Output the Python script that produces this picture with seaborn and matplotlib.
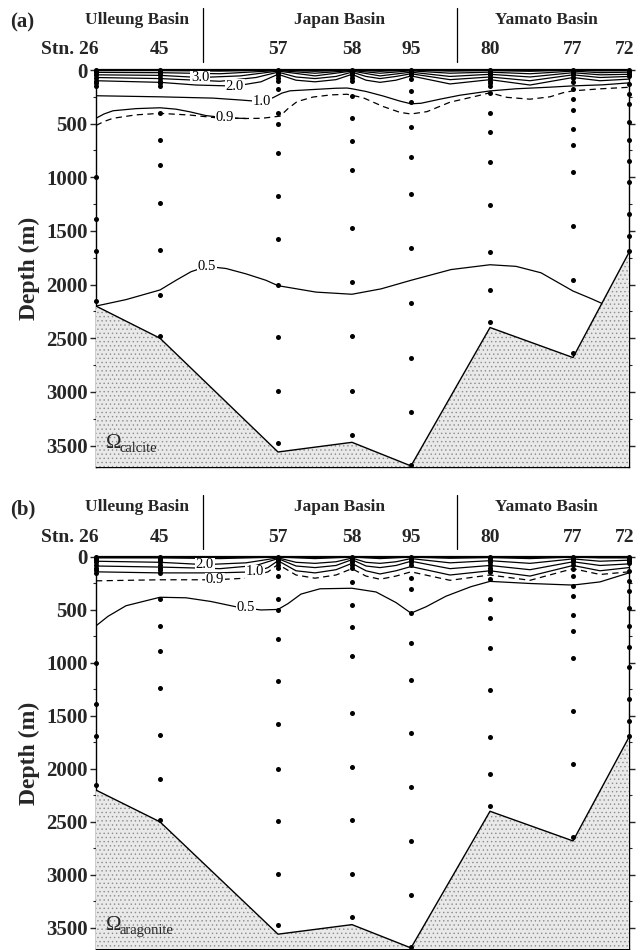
import numpy as np
import pandas as pd
import matplotlib
matplotlib.use("Agg")
import matplotlib.pyplot as plt
import seaborn as sns
from matplotlib.transforms import blended_transform_factory
from matplotlib.ticker import MultipleLocator

sns.set_theme(style="ticks")
plt.rcParams['font.family'] = ['Liberation Serif', 'DejaVu Serif']
plt.rcParams['hatch.color'] = '#8c8c8c'
plt.rcParams['hatch.linewidth'] = 0.5

# ---------------- data ----------------
stations = ['26', '45', '57', '58', '95', '80', '77', '72']
distance = [0, 64, 182, 256, 315, 394, 477, 533]          # along-section distance (km)
bottom_depth = [2200, 2500, 3560, 3470, 3690, 2400, 2680, 1700]
basins = ['Ulleung Basin', 'Japan Basin', 'Yamato Basin']
basin_centers = [41, 244, 450]
basin_dividers = [107, 361]
depth_ticks = [0, 500, 1000, 1500, 2000, 2500, 3000, 3500]

# sampling depths (m) at each station
depth_26 = [0, 10, 20, 30, 50, 75, 100, 125, 150, 1000, 1390, 1690, 2150]
depth_45 = [0, 10, 20, 30, 50, 75, 100, 125, 150, 400, 650, 885, 1235, 1680, 2100, 2480]
depth_57 = [0, 10, 20, 30, 50, 75, 100, 178, 397, 500, 772, 1172, 1578, 2000, 2490, 2990, 3475]
depth_58 = [0, 10, 20, 30, 50, 75, 100, 240, 450, 660, 930, 1470, 1980, 2480, 2990, 3400]
depth_95 = [0, 10, 20, 30, 50, 80, 200, 300, 530, 810, 1160, 1660, 2170, 2680, 3190, 3680]
depth_80 = [0, 10, 25, 50, 75, 100, 125, 145, 210, 400, 580, 855, 1260, 1700, 2050, 2350]
depth_77 = [0, 10, 25, 50, 75, 113, 178, 270, 370, 550, 700, 950, 1455, 1955, 2640]
depth_72 = [0, 10, 20, 40, 60, 130, 225, 320, 485, 650, 845, 1040, 1345, 1550, 1690]
sample_depths = [depth_26, depth_45, depth_57, depth_58, depth_95, depth_80, depth_77, depth_72]

# contour lines, panel (a) calcite: (distance km, depth m)
calc_s1 = [(0, 5), (64, 5), (124, 10), (182, 0), (219, 12), (256, 0), (284, 12), (315, 0), (354, 10), (394, 5), (434, 12), (477, 0), (504, 8), (533, 5)]
calc_s2 = [(0, 22), (64, 25), (124, 35), (182, 5), (219, 30), (256, 5), (284, 30), (315, 8), (354, 30), (394, 20), (434, 35), (477, 10), (504, 25), (533, 20)]
calc_3p0 = [(0, 45), (64, 50), (104, 70), (144, 55), (182, 10), (219, 55), (256, 10), (284, 55), (315, 20), (354, 60), (394, 40), (434, 65), (477, 25), (504, 45), (533, 40)]
calc_s4 = [(0, 70), (64, 80), (124, 105), (160, 70), (182, 20), (200, 65), (219, 80), (240, 60), (256, 20), (270, 60), (284, 80), (300, 60), (315, 35), (354, 90), (394, 65), (434, 100), (477, 45), (504, 70), (533, 60)]
calc_2p0 = [(0, 100), (64, 115), (100, 140), (139, 150), (165, 110), (182, 40), (200, 95), (219, 110), (240, 90), (256, 40), (270, 95), (284, 115), (300, 95), (315, 55), (354, 130), (394, 90), (434, 140), (477, 70), (504, 100), (533, 85)]
calc_1p0 = [(0, 240), (64, 250), (117, 262), (145, 280), (166, 295), (177, 258), (186, 215), (194, 194), (217, 182), (240, 170), (251, 168), (256, 175), (270, 200), (287, 242), (304, 290), (315, 315), (325, 310), (345, 270), (364, 235), (394, 195), (420, 175), (454, 160), (477, 148), (507, 138), (533, 120)]
calc_0p9 = [(0, 450), (8, 410), (17, 380), (40, 360), (64, 352), (80, 365), (94, 390), (110, 425), (129, 445), (150, 452)]
calc_0p9d = [(0, 517), (8, 480), (17, 450), (40, 418), (64, 404), (94, 420), (120, 445), (150, 452), (166, 450), (184, 430), (192, 360), (201, 295), (217, 252), (235, 232), (251, 226), (267, 258), (287, 340), (304, 395), (315, 410), (331, 388), (354, 300), (381, 242), (394, 212), (411, 255), (434, 272), (454, 250), (467, 212), (477, 194), (505, 175), (533, 161)]
calc_0p5 = [(0, 2200), (30, 2140), (64, 2050), (80, 1960), (95, 1880), (111, 1830), (130, 1850), (150, 1900), (170, 1960), (182, 2010), (220, 2070), (256, 2090), (285, 2040), (315, 1960), (355, 1860), (394, 1815), (420, 1830), (445, 1890), (477, 2060), (495, 2130), (507, 2180)]

# contour lines, panel (b) aragonite
arag_s1 = [(0, 8), (64, 8), (124, 15), (182, 0), (219, 15), (256, 0), (284, 15), (315, 0), (354, 12), (394, 5), (434, 15), (477, 0), (504, 8), (533, 8)]
arag_2p0 = [(0, 40), (64, 50), (109, 72), (150, 55), (182, 8), (200, 50), (219, 60), (240, 45), (256, 10), (270, 50), (284, 60), (300, 45), (315, 15), (354, 55), (394, 35), (434, 60), (477, 18), (504, 40), (533, 30)]
arag_s3 = [(0, 85), (64, 95), (124, 110), (160, 80), (182, 15), (200, 85), (219, 100), (240, 80), (256, 25), (270, 85), (284, 100), (300, 80), (315, 40), (354, 110), (394, 80), (434, 120), (477, 45), (504, 80), (533, 65)]
arag_1p0 = [(0, 140), (64, 150), (120, 150), (159, 140), (172, 100), (182, 35), (200, 130), (219, 150), (240, 120), (256, 60), (270, 130), (284, 160), (300, 130), (315, 90), (354, 170), (394, 130), (434, 180), (477, 80), (504, 130), (533, 100)]
arag_0p9d = [(0, 225), (64, 215), (119, 215), (150, 200), (172, 140), (182, 70), (200, 170), (219, 200), (240, 170), (256, 110), (270, 180), (284, 210), (300, 180), (315, 140), (354, 220), (394, 170), (434, 220), (477, 110), (504, 165), (533, 140)]
arag_0p5 = [(0, 650), (12, 560), (30, 460), (64, 380), (90, 385), (115, 420), (140, 470), (165, 500), (182, 495), (192, 440), (205, 350), (224, 300), (256, 295), (280, 330), (300, 430), (315, 530), (330, 470), (350, 370), (375, 280), (394, 230), (434, 250), (477, 265), (504, 235), (533, 150)]

calc_lines = [('s1', calc_s1, 'solid'), ('s2', calc_s2, 'solid'), ('3.0', calc_3p0, 'solid'),
              ('s4', calc_s4, 'solid'), ('2.0', calc_2p0, 'solid'), ('1.0', calc_1p0, 'solid'),
              ('0.9', calc_0p9, 'solid'), ('0.9d', calc_0p9d, 'dashed'), ('0.5', calc_0p5, 'solid')]
arag_lines = [('s1', arag_s1, 'solid'), ('2.0', arag_2p0, 'solid'), ('s3', arag_s3, 'solid'),
              ('1.0', arag_1p0, 'solid'), ('0.9d', arag_0p9d, 'dashed'), ('0.5', arag_0p5, 'solid')]

calc_labels = [('3.0', 104, 70), ('2.0', 139, 150), ('1.0', 166, 295), ('0.9', 129, 445), ('0.5', 111, 1830)]
arag_labels = [('2.0', 109, 72), ('1.0', 159, 140), ('0.9', 119, 215), ('0.5', 150, 480)]

# --------------- build tables ---------------
samples = pd.DataFrame([(d, z) for d, zs in zip(distance, sample_depths) for z in zs],
                       columns=['distance', 'depth'])


def lines_frame(lines):
    rows = []
    for name, pts, kind in lines:
        for x, z in pts:
            rows.append((name, kind, x, z))
    return pd.DataFrame(rows, columns=['line', 'kind', 'distance', 'depth'])


W, H = 641, 950
fig = plt.figure(figsize=(W / 100, H / 100), dpi=100)
ax_a = fig.add_axes([96 / W, 1 - 467 / H, (629 - 96) / W, (467 - 70) / H])
ax_b = fig.add_axes([96 / W, 1 - 949 / H, (629 - 96) / W, (949 - 557) / H])

serif_bold = dict(family=['Liberation Serif', 'DejaVu Serif'], fontweight='bold')


def draw_panel(ax, lines, labels, tag, omega_sub, ymax):
    df = lines_frame(lines)
    sns.lineplot(data=df, x='distance', y='depth', units='line', estimator=None, sort=False,
                 style='kind', dashes={'solid': '', 'dashed': (5, 3.5)}, color='black',
                 linewidth=0.9, legend=False, ax=ax, zorder=2)
    # bathymetry
    ax.fill_between(distance, bottom_depth, ymax + 200, facecolor='#e9e9e9', edgecolor='#8c8c8c',
                    hatch='....', linewidth=0, zorder=3)
    ax.plot(distance, bottom_depth, color='black', linewidth=1.0, zorder=4)
    sns.scatterplot(data=samples, x='distance', y='depth', color='black', s=13, linewidth=0,
                    ax=ax, zorder=5, clip_on=False, legend=False)
    for txt, x, z in labels:
        ax.text(x, z, txt, ha='center', va='center', fontsize=10.5, color='black', zorder=6,
                family=['Liberation Serif', 'DejaVu Serif'],
                bbox=dict(facecolor='white', edgecolor='none', pad=0.3))
    ax.set_xlim(distance[0], distance[-1])
    ax.set_ylim(ymax, 0)
    ax.set_yticks(depth_ticks)
    ax.set_yticklabels([str(t) for t in depth_ticks], **serif_bold, fontsize=15)
    ax.yaxis.set_minor_locator(MultipleLocator(250))
    ax.tick_params(axis='y', which='major', direction='out', length=4, width=1, left=True, right=True, pad=2)
    ax.tick_params(axis='y', which='minor', direction='out', length=2, width=0.8, left=True, right=True)
    ax.set_xticks([])
    ax.set_xlabel('')
    ax.set_ylabel('Depth (m)', **serif_bold, fontsize=17, labelpad=4)
    for sp in ax.spines.values():
        sp.set_color('black')
        sp.set_linewidth(1.0)
    ax.spines['top'].set_linewidth(1.6)
    ax.set_facecolor('white')
    trans = blended_transform_factory(ax.transData, ax.transAxes)
    h = ax.bbox.height
    # station labels
    for i, (st, d) in enumerate(zip(stations, distance)):
        t = ('Stn. ' + st) if i == 0 else st
        ha = 'right' if i == 0 else ('center' if i < len(stations) - 1 else 'right')
        xo = 3 if i == 0 else (5 if i == len(stations) - 1 else 0)
        ax.text(d + xo, 1 + 20 / h, t, transform=trans, ha=ha, va='center', fontsize=14, **serif_bold)
    for b, c in zip(basins, basin_centers):
        ax.text(c, 1 + 50 / h, b, transform=trans, ha='center', va='center', fontsize=12.5, **serif_bold)
    for dv in basin_dividers:
        ax.plot([dv, dv], [1 + 8 / h, 1 + 62 / h], transform=trans, color='black', linewidth=0.9,
                clip_on=False)
    ax.text(-86, 1 + 48 / h, tag, transform=trans, ha='left', va='center', fontsize=15, **serif_bold)
    # omega label
    ax.text(10, 3480, '\u03a9', ha='left', va='center', fontsize=15, zorder=6,
            family=['Liberation Serif', 'DejaVu Serif'])
    ax.text(24, 3530, omega_sub, ha='left', va='center', fontsize=10.5, zorder=6,
            family=['Liberation Serif', 'DejaVu Serif'])


draw_panel(ax_a, calc_lines, calc_labels, '(a)', 'calcite', 3700)
draw_panel(ax_b, arag_lines, arag_labels, '(b)', 'aragonite', 3700)

fig.savefig('out.png', dpi=100)
